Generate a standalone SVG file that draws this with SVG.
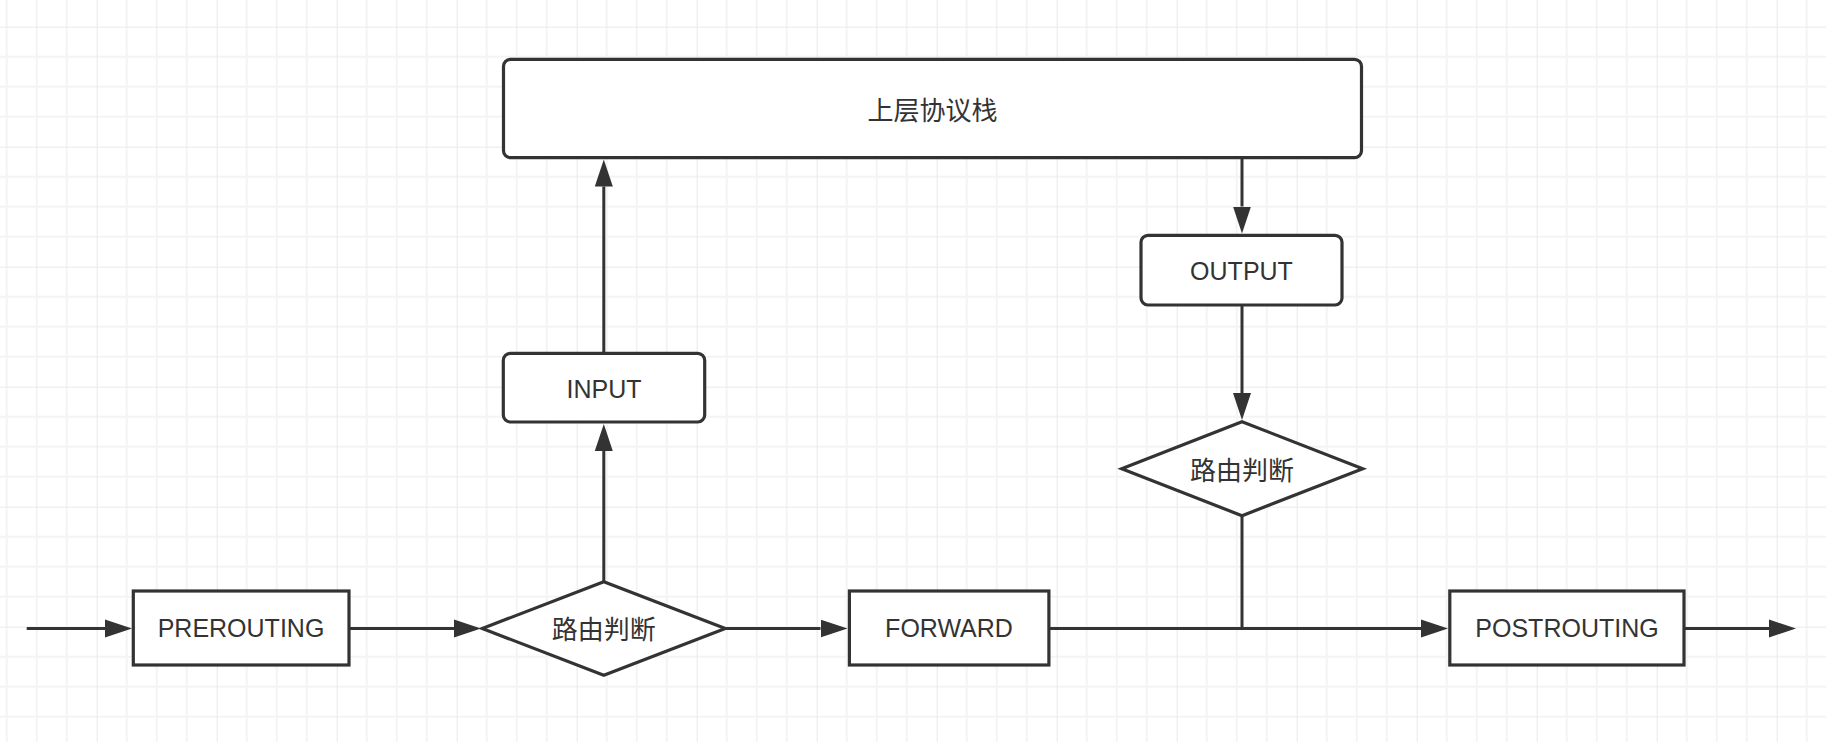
<svg xmlns="http://www.w3.org/2000/svg" width="1826" height="742" viewBox="0 0 1826 742">
<defs>
<pattern id="grid" x="96.7" y="26.7" width="120" height="120" patternUnits="userSpaceOnUse">
<path d="M30,0V120M60,0V120M90,0V120M0,30H120M0,60H120M0,90H120" stroke="#f4f4f4" stroke-width="2" fill="none"/>
<path d="M0,0V120M0,0H120" stroke="#e9e9e9" stroke-width="2" fill="none"/>
</pattern>
<marker id="arr" markerUnits="userSpaceOnUse" markerWidth="28" markerHeight="20" refX="0" refY="9" orient="auto" viewBox="0 0 28 18">
<path d="M0,0 L27,9 L0,18 Z" fill="#333333"/>
</marker>
<style>
.box{fill:#ffffff;stroke:#333333;stroke-width:3.2}
.lbl{font-family:"Liberation Sans",Arial,sans-serif;font-size:25px;fill:#333333;text-anchor:middle}
.cjk{font-family:"Noto Sans CJK SC","Liberation Sans",sans-serif;font-size:26px;fill:#333333;text-anchor:middle}
.ln{stroke:#333333;stroke-width:3;fill:none}
</style>
</defs>
<rect width="1826" height="742" fill="#ffffff"/>
<rect width="1826" height="742" fill="url(#grid)"/>
<g id="connectors">
<line class="ln" x1="26.7" y1="628.5" x2="105" y2="628.5" marker-end="url(#arr)"/>
<line class="ln" x1="349" y1="628.5" x2="454" y2="628.5" marker-end="url(#arr)"/>
<line class="ln" x1="725.6" y1="628.5" x2="820.5" y2="628.5" marker-end="url(#arr)"/>
<line class="ln" x1="1049" y1="628.5" x2="1421" y2="628.5" marker-end="url(#arr)"/>
<line class="ln" x1="1684" y1="628.5" x2="1769" y2="628.5" marker-end="url(#arr)"/>
<line class="ln" x1="603.8" y1="581.7" x2="603.8" y2="451" marker-end="url(#arr)"/>
<line class="ln" x1="603.8" y1="353.3" x2="603.8" y2="186.5" marker-end="url(#arr)"/>
<line class="ln" x1="1242" y1="157.7" x2="1242" y2="206.5" marker-end="url(#arr)"/>
<line class="ln" x1="1242" y1="305" x2="1242" y2="393" marker-end="url(#arr)"/>
<line class="ln" x1="1242" y1="515.7" x2="1242" y2="628.5"/>
</g>
<g id="stack">
<rect class="box" x="503.5" y="59.3" width="858" height="98.4" rx="7"/>
<text class="cjk" x="932.5" y="120">上层协议栈</text>
</g>
<g id="prerouting">
<rect class="box" x="133.3" y="591" width="215.7" height="74"/>
<text class="lbl" x="241" y="637.3">PREROUTING</text>
</g>
<g id="route1">
<polygon class="box" points="482.3,628.5 603.8,581.7 725.3,628.5 603.8,675.3"/>
<text class="cjk" x="603.8" y="638.5">路由判断</text>
</g>
<g id="input">
<rect class="box" x="503.3" y="353.3" width="201.4" height="68.7" rx="7"/>
<text class="lbl" x="604" y="397.7">INPUT</text>
</g>
<g id="forward">
<rect class="box" x="849.4" y="591" width="199.5" height="74"/>
<text class="lbl" x="949" y="637.3">FORWARD</text>
</g>
<g id="output">
<rect class="box" x="1141" y="235.3" width="201" height="69.7" rx="7"/>
<text class="lbl" x="1241.5" y="280">OUTPUT</text>
</g>
<g id="route2">
<polygon class="box" points="1121.7,468.7 1242,421.7 1362.7,468.7 1242,515.7"/>
<text class="cjk" x="1242" y="479.5">路由判断</text>
</g>
<g id="postrouting">
<rect class="box" x="1449.8" y="591" width="234.2" height="74"/>
<text class="lbl" x="1567" y="637.3">POSTROUTING</text>
</g>
</svg>
